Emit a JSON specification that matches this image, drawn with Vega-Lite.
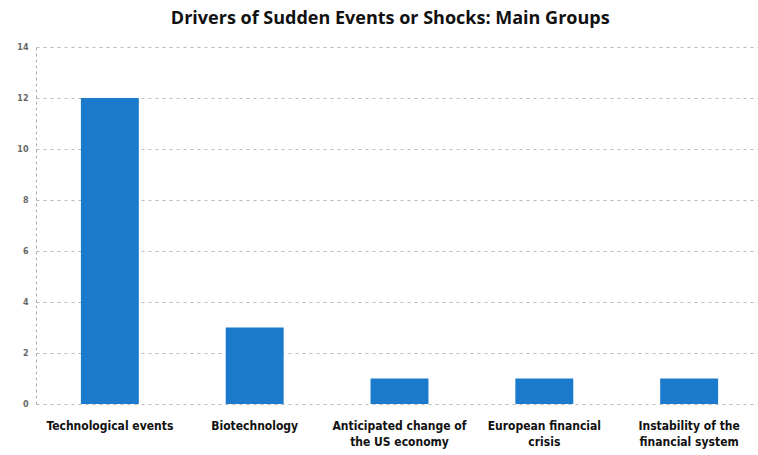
{
  "$schema": "https://vega.github.io/schema/vega-lite/v6.json",
  "autosize": "none",
  "padding": {"left": 36, "top": 47, "right": 0, "bottom": 51},
  "width": 727,
  "height": 357,
  "background": "white",
  "title": {
    "text": "Drivers of Sudden Events or Shocks: Main Groups",
    "font": "Open Sans",
    "fontSize": 18,
    "fontWeight": "bold",
    "color": "#111111",
    "anchor": "start",
    "dx": 154,
    "offset": 15
  },
  "data": {
    "values": [
      {"group": "Technological events", "count": 12},
      {"group": "Biotechnology", "count": 3},
      {"group": "Anticipated change of|the US economy", "count": 1},
      {"group": "European financial|crisis", "count": 1},
      {"group": "Instability of the|financial system", "count": 1}
    ]
  },
  "mark": {"type": "bar", "color": "#1b7acb"},
  "encoding": {
    "x": {
      "field": "group",
      "type": "nominal",
      "sort": null,
      "scale": {"paddingInner": 0.6, "paddingOuter": 0.31},
      "axis": {
        "title": null,
        "labelAngle": 0,
        "labelExpr": "split(datum.label, '|')",
        "labelFont": "DejaVu Sans Condensed, DejaVu Sans",
        "labelFontSize": 12,
        "labelFontWeight": "bold",
        "labelColor": "#111111",
        "labelPadding": 16,
        "labelLineHeight": 16,
        "ticks": false,
        "domain": false,
        "grid": false
      }
    },
    "y": {
      "field": "count",
      "type": "quantitative",
      "scale": {"domain": [0, 14]},
      "axis": {
        "title": null,
        "values": [0, 2, 4, 6, 8, 10, 12, 14],
        "labelFont": "DejaVu Sans",
        "labelFontSize": 8,
        "labelFontWeight": "bold",
        "labelColor": "#666666",
        "labelPadding": 8,
        "ticks": false,
        "domain": true,
        "domainColor": "#aaaaaa",
        "domainDash": [3, 3],
        "grid": true,
        "gridColor": "#bbbbbb",
        "gridDash": [3, 4],
        "gridWidth": 1
      }
    }
  },
  "config": {"view": {"stroke": null}}
}
